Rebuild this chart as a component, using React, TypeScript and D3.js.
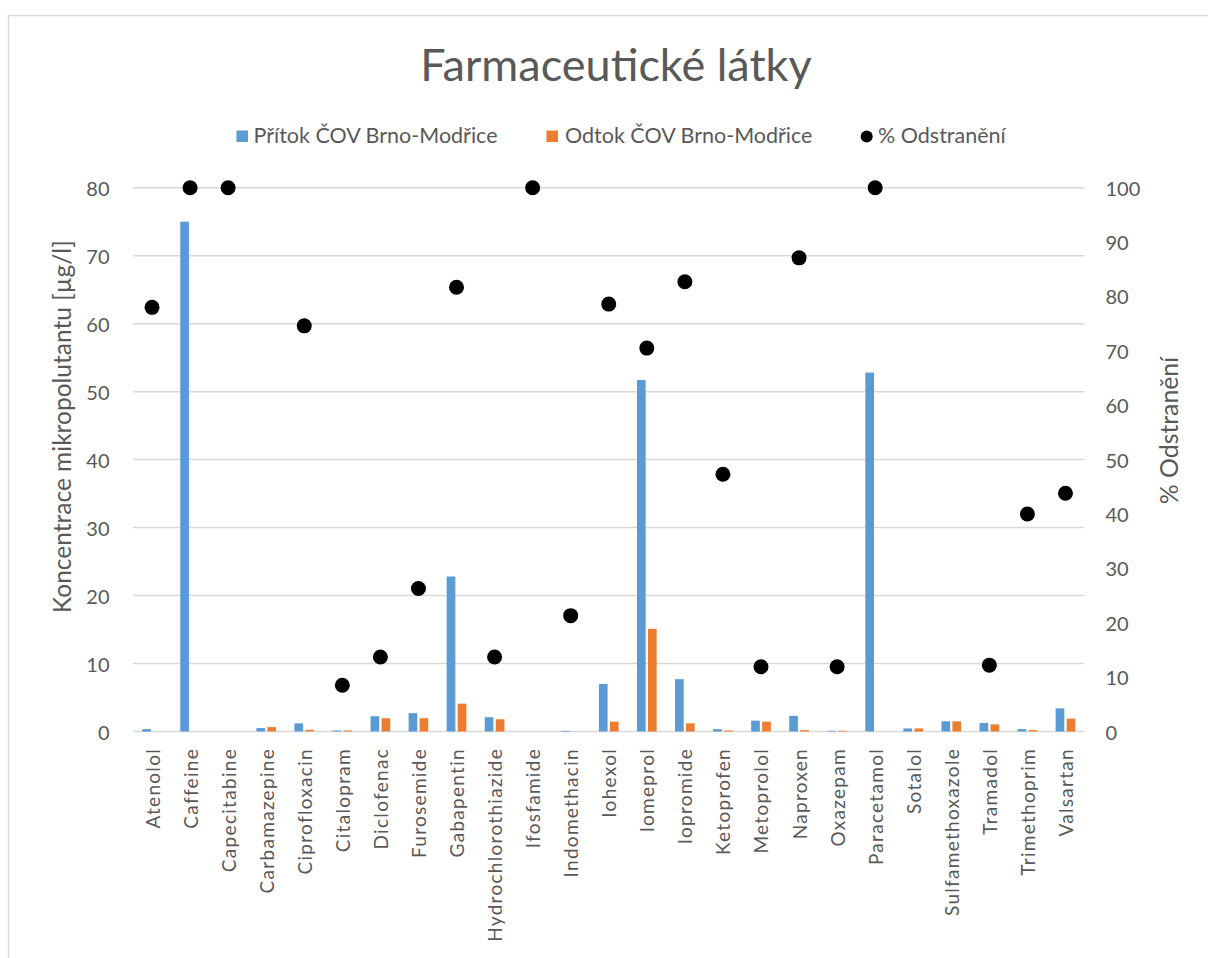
import React from "react";
import * as d3 from "d3";

const categories = [
  "Atenolol", "Caffeine", "Capecitabine", "Carbamazepine", "Ciprofloxacin",
  "Citalopram", "Diclofenac", "Furosemide", "Gabapentin", "Hydrochlorothiazide",
  "Ifosfamide", "Indomethacin", "Iohexol", "Iomeprol", "Iopromide",
  "Ketoprofen", "Metoprolol", "Naproxen", "Oxazepam", "Paracetamol",
  "Sotalol", "Sulfamethoxazole", "Tramadol", "Trimethoprim", "Valsartan",
];

const inflow = [
  0.35, 75.0, 0, 0.5, 1.2,
  0.15, 2.25, 2.7, 22.8, 2.1,
  0, 0.1, 7.0, 51.7, 7.7,
  0.35, 1.6, 2.3, 0.1, 52.8,
  0.45, 1.5, 1.25, 0.35, 3.4,
];

const outflow = [
  0, 0, 0, 0.65, 0.25,
  0.15, 1.95, 1.95, 4.1, 1.8,
  0, 0, 1.45, 15.1, 1.2,
  0.15, 1.45, 0.2, 0.1, 0,
  0.45, 1.5, 1.05, 0.2, 1.9,
];

const removal: (number | null)[] = [
  78.0, 100, 100, null, 74.6,
  8.5, 13.7, 26.3, 81.7, 13.7,
  100, 21.3, 78.6, 70.5, 82.7,
  47.3, 11.9, 87.1, 11.9, 100,
  null, null, 12.2, 40.0, 43.8,
];

const leftTicks = [0, 10, 20, 30, 40, 50, 60, 70, 80];
const rightTicks = [0, 10, 20, 30, 40, 50, 60, 70, 80, 90, 100];

const seriesNames = ["Přítok ČOV Brno-Modřice", "Odtok ČOV Brno-Modřice", "% Odstranění"];
const title = "Farmaceutické látky";
const leftTitle = "Koncentrace mikropolutantu [µg/l]";
const rightTitle = "% Odstranění";

const BLUE = "#5B9BD5";
const ORANGE = "#ED7D31";
const GREY = "#595959";
const GRID = "#D9D9D9";
const FONT = "Lato, 'Noto Sans', sans-serif";

export default function App() {
  const W = 1208, H = 958;
  const plotL = 133, plotR = 1084.5, plotT = 187.7, plotB = 731.5;

  const x = d3.scaleBand<string>().domain(categories).range([plotL, plotR]).padding(0);
  const yL = d3.scaleLinear().domain([0, 80]).range([plotB, plotT]);
  const yR = d3.scaleLinear().domain([0, 100]).range([plotB, plotT]);
  const bw = 8.7;
  const gap = 1.15;
  const cx = (c: string) => (x(c) as number) + x.bandwidth() / 2;

  return (
    <svg width={W} height={H} style={{ position: "absolute", left: 0, top: 0, background: "#fff" }} fontFamily={FONT}>
      <rect x={0} y={0} width={W} height={H} fill="#fff" />
      <rect x={8.5} y={15.5} width={W + 20} height={H + 20} fill="none" stroke="#D9D9D9" strokeWidth={1.5} />

      <text x={616} y={81} textAnchor="middle" fontSize={45} fill={GREY}>{title}</text>

      {/* legend */}
      <rect x={236.5} y={130.5} width={11.5} height={11.5} fill={BLUE} />
      <text x={253.5} y={143} fontSize={21.5} fill={GREY}>{seriesNames[0]}</text>
      <rect x={546.5} y={130.5} width={11.5} height={11.5} fill={ORANGE} />
      <text x={565} y={143} fontSize={21.5} fill={GREY}>{seriesNames[1]}</text>
      <circle cx={866.7} cy={136.5} r={6} fill="#000" />
      <text x={878} y={143} fontSize={21.5} fill={GREY}>{seriesNames[2]}</text>

      {/* gridlines */}
      {leftTicks.map((t) => (
        <line key={"g" + t} x1={plotL} x2={plotR} y1={yL(t)} y2={yL(t)} stroke={GRID} strokeWidth={1.5} />
      ))}

      {/* left ticks */}
      {leftTicks.map((t) => (
        <text key={"l" + t} x={109.5} y={yL(t)} textAnchor="end" dominantBaseline="central" fontSize={20} fill={GREY}>{t}</text>
      ))}
      {/* right ticks */}
      {rightTicks.map((t) => (
        <text key={"r" + t} x={1105.5} y={yR(t)} textAnchor="start" dominantBaseline="central" fontSize={20} fill={GREY}>{t}</text>
      ))}

      <text transform={`translate(61.7,426.7) rotate(-90)`} textAnchor="middle" dominantBaseline="central" fontSize={24.5} fill={GREY}>{leftTitle}</text>
      <text transform={`translate(1168,430.5) rotate(-90)`} textAnchor="middle" dominantBaseline="central" fontSize={24.8} fill={GREY}>{rightTitle}</text>

      {/* bars */}
      {categories.map((c, i) => (
        <g key={"b" + c}>
          {inflow[i] > 0 && (
            <rect x={cx(c) - gap - bw} y={yL(inflow[i])} width={bw} height={plotB - yL(inflow[i])} fill={BLUE} />
          )}
          {outflow[i] > 0 && (
            <rect x={cx(c) + gap} y={yL(outflow[i])} width={bw} height={plotB - yL(outflow[i])} fill={ORANGE} />
          )}
        </g>
      ))}

      {/* dots */}
      {categories.map((c, i) =>
        removal[i] == null ? null : (
          <circle key={"d" + c} cx={cx(c)} cy={yR(removal[i] as number)} r={7.5} fill="#000" />
        )
      )}

      {/* category labels */}
      {categories.map((c) => (
        <text key={"c" + c} transform={`translate(${cx(c)},748) rotate(-90)`} textAnchor="end" dominantBaseline="central" fontSize={19} letterSpacing={1.3} fill={GREY}>{c}</text>
      ))}
    </svg>
  );
}
